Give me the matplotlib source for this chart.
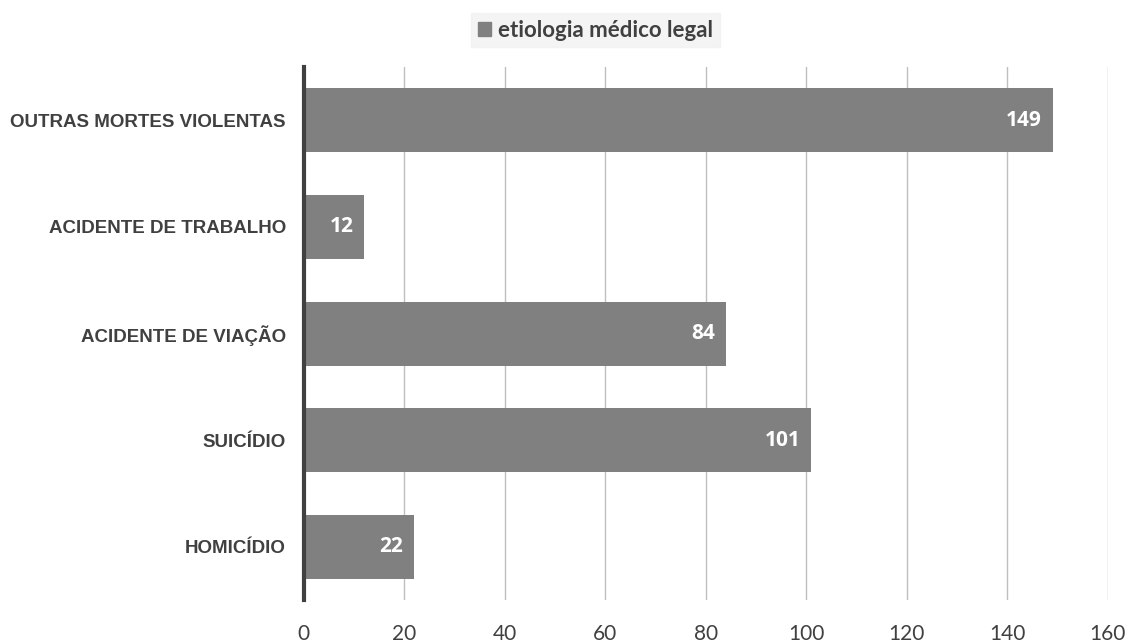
import matplotlib.pyplot as plt
from matplotlib.patches import Patch

categories = ['HOMICÍDIO', 'SUICÍDIO', 'ACIDENTE DE VIAÇÃO',
              'ACIDENTE DE TRABALHO', 'OUTRAS MORTES VIOLENTAS']
values = [22, 101, 84, 12, 149]
x_ticks = [0, 20, 40, 60, 80, 100, 120, 140, 160]
series_name = 'etiologia médico legal'

bar_color = '#808080'
text_color = '#404040'

fig = plt.figure(figsize=(11.34, 6.44), dpi=100)
ax = fig.add_axes([0.268, 0.068, 0.709, 0.828])

y = range(len(categories))
bars = ax.barh(y, values, height=0.6, color=bar_color, zorder=3)

ax.set_xlim(0, 160)
ax.set_ylim(-0.5, len(categories) - 0.5)
ax.set_xticks(x_ticks)
ax.set_xticklabels([str(t) for t in x_ticks], fontsize=15, color=text_color,
                   family='Lato')
ax.set_yticks(list(y))
ax.set_yticklabels(categories, fontsize=13.5, fontweight='bold', color=text_color,
                   family='Liberation Sans')
ax.tick_params(axis='x', length=0, pad=17)
ax.tick_params(axis='y', length=0, pad=13)

ax.grid(axis='x', color='#bfbfbf', linewidth=1, zorder=0)
for side in ['top', 'right', 'bottom']:
    ax.spines[side].set_visible(False)
ax.spines['left'].set_color('#404040')
ax.spines['left'].set_linewidth(3)
ax.spines['left'].set_zorder(4)

# value labels inside the bar ends
for bar, v in zip(bars, values):
    ax.text(bar.get_width() - 2.2, bar.get_y() + bar.get_height() / 2, str(v),
            ha='right', va='center', color='white', fontsize=15,
            fontweight='bold', family='Open Sans', zorder=5)

leg = fig.legend(handles=[Patch(color=bar_color, label=series_name)],
                 loc='center', bbox_to_anchor=(0.525, 0.953), frameon=True,
                 fancybox=False, handlelength=0.6, handleheight=0.6,
                 handletextpad=0.3, borderpad=0.3,
                 prop={'family': 'Lato', 'weight': 'bold', 'size': 16})
leg.get_frame().set_facecolor('#f2f2f2')
leg.get_frame().set_edgecolor('#f2f2f2')
for t in leg.get_texts():
    t.set_color(text_color)

fig.savefig('out.png', dpi=100)
